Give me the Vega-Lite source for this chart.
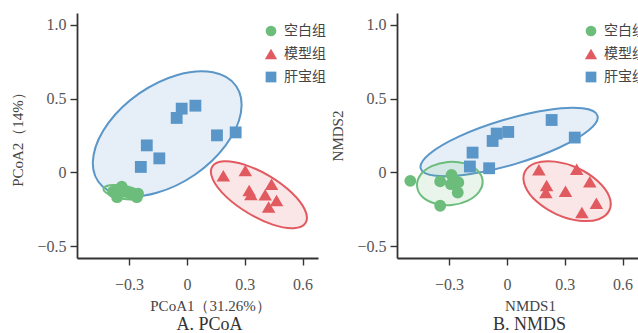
{
  "$schema": "https://vega.github.io/schema/vega-lite/v6.json",
  "padding": {"left": 10, "top": 13, "right": 0, "bottom": 0},
  "background": "white",
  "config": {
    "view": {"stroke": null},
    "axis": {
      "grid": false,
      "domainColor": "#333",
      "domainWidth": 1.8,
      "tickColor": "#333",
      "tickWidth": 1.4,
      "tickSize": 7,
      "labelFont": "Liberation Serif",
      "labelFontSize": 16,
      "labelColor": "#555",
      "titleFont": "Liberation Serif",
      "titleFontSize": 15,
      "titleFontWeight": "normal",
      "titleColor": "#444"
    },
    "axisX": {"labelPadding": 11, "titlePadding": 6},
    "axisY": {"labelPadding": 4, "titlePadding": 11},
    "legend": {
      "orient": "none",
      "legendX": 187,
      "legendY": 11,
      "labelFont": "Noto Sans CJK SC",
      "labelFontSize": 14,
      "labelColor": "#444",
      "symbolSize": 115,
      "rowPadding": 9,
      "labelOffset": 6,
      "padding": 0
    },
    "title": {"font": "Liberation Serif", "fontSize": 18, "fontWeight": "normal", "color": "#333"}
  },
  "datasets": {
    "pcoaPts": [
      {"g": "空白组", "x": -0.338, "y": -0.097},
      {"g": "空白组", "x": -0.383, "y": -0.131},
      {"g": "空白组", "x": -0.362, "y": -0.168},
      {"g": "空白组", "x": -0.321, "y": -0.131},
      {"g": "空白组", "x": -0.295, "y": -0.144},
      {"g": "空白组", "x": -0.260, "y": -0.168},
      {"g": "空白组", "x": -0.253, "y": -0.144},
      {"g": "空白组", "x": -0.352, "y": -0.117},
      {"g": "模型组", "x": 0.189, "y": -0.022},
      {"g": "模型组", "x": 0.303, "y": 0.012},
      {"g": "模型组", "x": 0.323, "y": -0.122},
      {"g": "模型组", "x": 0.332, "y": -0.149},
      {"g": "模型组", "x": 0.406, "y": -0.151},
      {"g": "模型组", "x": 0.439, "y": -0.081},
      {"g": "模型组", "x": 0.465, "y": -0.190},
      {"g": "模型组", "x": 0.424, "y": -0.234},
      {"g": "肝宝组", "x": -0.027, "y": 0.432},
      {"g": "肝宝组", "x": -0.053, "y": 0.369},
      {"g": "肝宝组", "x": 0.044, "y": 0.452},
      {"g": "肝宝组", "x": -0.208, "y": 0.183},
      {"g": "肝宝组", "x": -0.143, "y": 0.095},
      {"g": "肝宝组", "x": -0.239, "y": 0.037},
      {"g": "肝宝组", "x": 0.156, "y": 0.251},
      {"g": "肝宝组", "x": 0.253, "y": 0.271}
    ],
    "pcoaEll": [
      {"g": "肝宝组", "i": 0, "x": 0.256, "y": 0.584},
      {"g": "肝宝组", "i": 1, "x": 0.135, "y": 0.678},
      {"g": "肝宝组", "i": 2, "x": -0.049, "y": 0.660},
      {"g": "肝宝组", "i": 3, "x": -0.247, "y": 0.535},
      {"g": "肝宝组", "i": 4, "x": -0.406, "y": 0.337},
      {"g": "肝宝组", "i": 5, "x": -0.484, "y": 0.118},
      {"g": "肝宝组", "i": 6, "x": -0.460, "y": -0.062},
      {"g": "肝宝组", "i": 7, "x": -0.339, "y": -0.156},
      {"g": "肝宝组", "i": 8, "x": -0.156, "y": -0.138},
      {"g": "肝宝组", "i": 9, "x": 0.043, "y": -0.014},
      {"g": "肝宝组", "i": 10, "x": 0.202, "y": 0.185},
      {"g": "肝宝组", "i": 11, "x": 0.280, "y": 0.403},
      {"g": "模型组", "i": 0, "x": 0.616, "y": -0.341},
      {"g": "模型组", "i": 1, "x": 0.612, "y": -0.253},
      {"g": "模型组", "i": 2, "x": 0.544, "y": -0.138},
      {"g": "模型组", "i": 3, "x": 0.431, "y": -0.027},
      {"g": "模型组", "i": 4, "x": 0.302, "y": 0.051},
      {"g": "模型组", "i": 5, "x": 0.192, "y": 0.075},
      {"g": "模型组", "i": 6, "x": 0.131, "y": 0.039},
      {"g": "模型组", "i": 7, "x": 0.135, "y": -0.049},
      {"g": "模型组", "i": 8, "x": 0.203, "y": -0.164},
      {"g": "模型组", "i": 9, "x": 0.317, "y": -0.275},
      {"g": "模型组", "i": 10, "x": 0.445, "y": -0.354},
      {"g": "模型组", "i": 11, "x": 0.555, "y": -0.378},
      {"g": "空白组", "i": 0, "x": -0.229, "y": -0.158},
      {"g": "空白组", "i": 1, "x": -0.240, "y": -0.133},
      {"g": "空白组", "i": 2, "x": -0.275, "y": -0.108},
      {"g": "空白组", "i": 3, "x": -0.325, "y": -0.091},
      {"g": "空白组", "i": 4, "x": -0.377, "y": -0.085},
      {"g": "空白组", "i": 5, "x": -0.417, "y": -0.092},
      {"g": "空白组", "i": 6, "x": -0.433, "y": -0.111},
      {"g": "空白组", "i": 7, "x": -0.422, "y": -0.135},
      {"g": "空白组", "i": 8, "x": -0.387, "y": -0.160},
      {"g": "空白组", "i": 9, "x": -0.337, "y": -0.178},
      {"g": "空白组", "i": 10, "x": -0.285, "y": -0.183},
      {"g": "空白组", "i": 11, "x": -0.246, "y": -0.176}
    ],
    "nmdsPts": [
      {"g": "空白组", "x": -0.501, "y": -0.057},
      {"g": "空白组", "x": -0.346, "y": -0.061},
      {"g": "空白组", "x": -0.287, "y": -0.017},
      {"g": "空白组", "x": -0.290, "y": -0.080},
      {"g": "空白组", "x": -0.252, "y": -0.068},
      {"g": "空白组", "x": -0.255, "y": -0.136},
      {"g": "空白组", "x": -0.346, "y": -0.226},
      {"g": "空白组", "x": -0.272, "y": -0.053},
      {"g": "模型组", "x": 0.166, "y": 0.018},
      {"g": "模型组", "x": 0.362, "y": 0.022},
      {"g": "模型组", "x": 0.430, "y": -0.063},
      {"g": "模型组", "x": 0.206, "y": -0.089},
      {"g": "模型组", "x": 0.202, "y": -0.136},
      {"g": "模型组", "x": 0.304, "y": -0.127},
      {"g": "模型组", "x": 0.464, "y": -0.209},
      {"g": "模型组", "x": 0.389, "y": -0.271},
      {"g": "肝宝组", "x": -0.178, "y": 0.134},
      {"g": "肝宝组", "x": -0.192, "y": 0.040},
      {"g": "肝宝组", "x": -0.092, "y": 0.028},
      {"g": "肝宝组", "x": -0.074, "y": 0.213},
      {"g": "肝宝组", "x": -0.053, "y": 0.263},
      {"g": "肝宝组", "x": 0.007, "y": 0.274},
      {"g": "肝宝组", "x": 0.232, "y": 0.355},
      {"g": "肝宝组", "x": 0.352, "y": 0.236}
    ],
    "nmdsEll": [
      {"g": "肝宝组", "i": 0, "x": 0.470, "y": 0.384},
      {"g": "肝宝组", "i": 1, "x": 0.392, "y": 0.434},
      {"g": "肝宝组", "i": 2, "x": 0.212, "y": 0.423},
      {"g": "肝宝组", "i": 3, "x": -0.022, "y": 0.353},
      {"g": "肝宝组", "i": 4, "x": -0.247, "y": 0.244},
      {"g": "肝宝组", "i": 5, "x": -0.402, "y": 0.125},
      {"g": "肝宝组", "i": 6, "x": -0.447, "y": 0.027},
      {"g": "肝宝组", "i": 7, "x": -0.369, "y": -0.023},
      {"g": "肝宝组", "i": 8, "x": -0.188, "y": -0.011},
      {"g": "肝宝组", "i": 9, "x": 0.045, "y": 0.058},
      {"g": "肝宝组", "i": 10, "x": 0.270, "y": 0.167},
      {"g": "肝宝组", "i": 11, "x": 0.426, "y": 0.287},
      {"g": "模型组", "i": 0, "x": 0.532, "y": -0.255},
      {"g": "模型组", "i": 1, "x": 0.530, "y": -0.160},
      {"g": "模型组", "i": 2, "x": 0.469, "y": -0.056},
      {"g": "模型组", "i": 3, "x": 0.366, "y": 0.030},
      {"g": "模型组", "i": 4, "x": 0.249, "y": 0.073},
      {"g": "模型组", "i": 5, "x": 0.148, "y": 0.063},
      {"g": "模型组", "i": 6, "x": 0.092, "y": 0.001},
      {"g": "模型组", "i": 7, "x": 0.095, "y": -0.094},
      {"g": "模型组", "i": 8, "x": 0.155, "y": -0.198},
      {"g": "模型组", "i": 9, "x": 0.258, "y": -0.284},
      {"g": "模型组", "i": 10, "x": 0.376, "y": -0.327},
      {"g": "模型组", "i": 11, "x": 0.476, "y": -0.317},
      {"g": "空白组", "i": 0, "x": -0.126, "y": -0.055},
      {"g": "空白组", "i": 1, "x": -0.154, "y": 0.015},
      {"g": "空白组", "i": 2, "x": -0.219, "y": 0.061},
      {"g": "空白组", "i": 3, "x": -0.306, "y": 0.071},
      {"g": "空白组", "i": 4, "x": -0.390, "y": 0.042},
      {"g": "空白组", "i": 5, "x": -0.449, "y": -0.018},
      {"g": "空白组", "i": 6, "x": -0.466, "y": -0.094},
      {"g": "空白组", "i": 7, "x": -0.439, "y": -0.165},
      {"g": "空白组", "i": 8, "x": -0.373, "y": -0.211},
      {"g": "空白组", "i": 9, "x": -0.286, "y": -0.221},
      {"g": "空白组", "i": 10, "x": -0.202, "y": -0.191},
      {"g": "空白组", "i": 11, "x": -0.144, "y": -0.131}
    ]
  },
  "hconcat": [
    {
      "width": 241,
      "height": 245,
      "title": {"text": "A. PCoA", "orient": "bottom", "offset": 3, "dx": 12},
      "encoding": {
        "x": {"field": "x", "type": "quantitative", "scale": {"domain": [-0.57, 0.68], "nice": false, "zero": false},
              "axis": {"values": [-0.3, 0, 0.3, 0.6], "labelExpr": "datum.value == 0 ? '0' : format(datum.value, '.1f')", "title": "PCoA1（31.26%）", "titleX": 133}},
        "y": {"field": "y", "type": "quantitative", "scale": {"domain": [-0.58, 1.08], "nice": false, "zero": false},
              "axis": {"values": [-0.5, 0, 0.5, 1.0], "labelExpr": "datum.value == 0 ? '0' : format(datum.value, '.1f')", "title": "PCoA2（14%）"}}
      },
      "layer": [
        {
          "data": {"name": "pcoaEll"},
          "transform": [{"filter": {"field": "g", "equal": "肝宝组"}}],
          "mark": {"type": "line", "interpolate": "cardinal-closed", "strokeWidth": 2, "stroke": "#5a96c8", "fill": "#5a96c8", "fillOpacity": 0.15},
          "encoding": {"order": {"field": "i", "type": "quantitative"}}
        },
        {
          "data": {"name": "pcoaEll"},
          "transform": [{"filter": {"field": "g", "equal": "模型组"}}],
          "mark": {"type": "line", "interpolate": "cardinal-closed", "strokeWidth": 2, "stroke": "#e15a5f", "fill": "#e15a5f", "fillOpacity": 0.15},
          "encoding": {"order": {"field": "i", "type": "quantitative"}}
        },
        {
          "data": {"name": "pcoaEll"},
          "transform": [{"filter": {"field": "g", "equal": "空白组"}}],
          "mark": {"type": "line", "interpolate": "cardinal-closed", "strokeWidth": 2, "stroke": "#6cbd7c", "fill": "#6cbd7c", "fillOpacity": 0.15},
          "encoding": {"order": {"field": "i", "type": "quantitative"}}
        },
        {
          "data": {"name": "pcoaPts"},
          "mark": {"type": "point", "filled": true, "opacity": 1, "size": 140},
          "encoding": {
            "color": {"field": "g", "type": "nominal", "scale": {"domain": ["空白组", "模型组", "肝宝组"], "range": ["#6cbd7c", "#e15a5f", "#5a96c8"]}, "legend": {"title": null}},
            "shape": {"field": "g", "type": "nominal", "scale": {"domain": ["空白组", "模型组", "肝宝组"], "range": ["circle", "M0,-0.97L1.14,0.97L-1.14,0.97Z", "square"]}, "legend": {"title": null}}
          }
        }
      ]
    },
    {
      "width": 241,
      "height": 245,
      "title": {"text": "B. NMDS", "orient": "bottom", "offset": 3, "dx": 12},
      "encoding": {
        "x": {"field": "x", "type": "quantitative", "scale": {"domain": [-0.57, 0.68], "nice": false, "zero": false},
              "axis": {"values": [-0.3, 0, 0.3, 0.6], "labelExpr": "datum.value == 0 ? '0' : format(datum.value, '.1f')", "title": "NMDS1", "titleX": 133}},
        "y": {"field": "y", "type": "quantitative", "scale": {"domain": [-0.58, 1.08], "nice": false, "zero": false},
              "axis": {"values": [-0.5, 0, 0.5, 1.0], "labelExpr": "datum.value == 0 ? '0' : format(datum.value, '.1f')", "title": "NMDS2"}}
      },
      "layer": [
        {
          "data": {"name": "nmdsEll"},
          "transform": [{"filter": {"field": "g", "equal": "肝宝组"}}],
          "mark": {"type": "line", "interpolate": "cardinal-closed", "strokeWidth": 2, "stroke": "#5a96c8", "fill": "#5a96c8", "fillOpacity": 0.15},
          "encoding": {"order": {"field": "i", "type": "quantitative"}}
        },
        {
          "data": {"name": "nmdsEll"},
          "transform": [{"filter": {"field": "g", "equal": "模型组"}}],
          "mark": {"type": "line", "interpolate": "cardinal-closed", "strokeWidth": 2, "stroke": "#e15a5f", "fill": "#e15a5f", "fillOpacity": 0.15},
          "encoding": {"order": {"field": "i", "type": "quantitative"}}
        },
        {
          "data": {"name": "nmdsEll"},
          "transform": [{"filter": {"field": "g", "equal": "空白组"}}],
          "mark": {"type": "line", "interpolate": "cardinal-closed", "strokeWidth": 2, "stroke": "#6cbd7c", "fill": "#6cbd7c", "fillOpacity": 0.15},
          "encoding": {"order": {"field": "i", "type": "quantitative"}}
        },
        {
          "data": {"name": "nmdsPts"},
          "mark": {"type": "point", "filled": true, "opacity": 1, "size": 140},
          "encoding": {
            "color": {"field": "g", "type": "nominal", "scale": {"domain": ["空白组", "模型组", "肝宝组"], "range": ["#6cbd7c", "#e15a5f", "#5a96c8"]}, "legend": {"title": null}},
            "shape": {"field": "g", "type": "nominal", "scale": {"domain": ["空白组", "模型组", "肝宝组"], "range": ["circle", "M0,-0.97L1.14,0.97L-1.14,0.97Z", "square"]}, "legend": {"title": null}}
          }
        }
      ]
    }
  ],
  "spacing": 79,
  "bounds": "flush",
  "resolve": {
    "scale": {"color": "independent", "shape": "independent", "x": "independent", "y": "independent"},
    "legend": {"color": "independent", "shape": "independent"}
  }
}
